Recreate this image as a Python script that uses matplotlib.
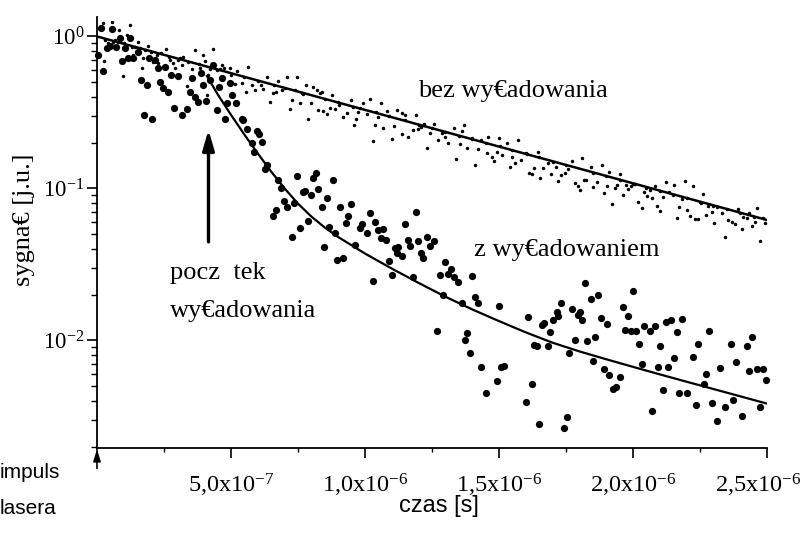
import matplotlib
matplotlib.use('Agg')
import matplotlib.pyplot as plt
import matplotlib.transforms as mtransforms
from matplotlib import font_manager
from matplotlib.ticker import FixedLocator, FixedFormatter, NullFormatter
import numpy as np

# ---------------- data (time in units of 1e-7 s) ----------------
bez_t = [0.21, 0.25, 0.30, 0.42, 0.55, 0.60, 0.67, 0.79, 0.82, 0.96,
         1.00, 1.11, 1.23, 1.30, 1.35, 1.42, 1.54, 1.60, 1.67, 1.73,
         1.79, 1.91, 2.00, 2.10, 2.23, 2.29, 2.40, 2.56, 2.70, 2.72,
         2.85, 2.91, 3.01, 3.10, 3.16, 3.22, 3.35, 3.40, 3.53, 3.66,
         3.80, 3.84, 3.97, 4.03, 4.09, 4.13, 4.20, 4.34, 4.47, 4.60,
         4.65, 4.75, 4.96, 5.00,
         5.03, 5.15, 5.21, 5.40, 5.50, 5.56, 5.65, 5.77, 5.90, 6.00,
         6.11, 6.21, 6.35, 6.47, 6.56, 6.60, 6.68, 6.77, 6.89, 7.00,
         7.08, 7.19, 7.26, 7.39, 7.46, 7.57, 7.64, 7.70, 7.78, 7.87,
         7.97, 8.07, 8.20, 8.26, 8.32, 8.38, 8.44, 8.50, 8.57, 8.69,
         8.77, 8.88, 9.00, 9.04, 9.19, 9.32, 9.48, 9.54, 9.59, 9.66,
         9.75, 9.80, 9.91, 10.06, 10.19, 10.29, 10.37, 10.40, 10.50, 10.59,
         10.68, 10.81, 10.90, 11.00, 11.09, 11.18,
         11.37, 11.39, 11.49, 11.50, 11.62, 11.80, 11.89, 11.99, 12.00, 12.09,
         12.21, 12.30, 12.43, 12.50, 12.59, 12.71, 12.86, 12.99, 13.00, 13.11,
         13.33, 13.38, 13.50, 13.54, 13.61, 13.71, 13.79, 13.98, 14.00, 14.10,
         14.21, 14.33, 14.50, 14.54, 14.60, 14.73, 14.83, 14.91, 15.00, 15.05,
         15.10, 15.29, 15.41, 15.47, 15.50, 15.60, 15.72, 15.82, 16.00, 16.05,
         16.12, 16.22, 16.32, 16.44, 16.50, 16.53, 16.65, 16.82, 16.94, 17.00,
         17.12, 17.21, 17.31, 17.46, 17.50, 17.56, 17.71, 17.84, 17.94, 18.02,
         18.11, 18.18,
         18.25, 18.42, 18.50, 18.52, 18.67, 18.83, 18.92, 19.00, 19.02, 19.12,
         19.21, 19.33, 19.41, 19.50, 19.51, 19.62, 19.74, 19.82, 19.91, 20.00,
         20.07, 20.20, 20.32, 20.41, 20.50, 20.51, 20.63, 20.70, 20.82, 20.91,
         21.00, 21.01, 21.11, 21.23, 21.35, 21.50, 21.53, 21.63, 21.73, 21.82,
         21.94, 22.00, 22.03, 22.13, 22.23, 22.31, 22.44, 22.50, 22.53, 22.62,
         22.72, 22.81, 22.94, 23.00, 23.02, 23.12, 23.31, 23.43, 23.50, 23.56,
         23.68, 23.81, 23.93, 24.00, 24.06, 24.12, 24.24, 24.34, 24.43, 24.50,
         24.55, 24.64, 24.74, 24.84, 24.93]
bez_y = [1.23, 0.690, 0.95, 0.902, 1.25, 0.92, 0.948, 0.924, 1.10, 0.550,
         0.91, 1.02, 1.19, 0.85, 0.756, 0.857, 0.916, 0.84, 0.624, 0.719,
         0.815, 0.870, 0.79, 0.683, 0.756, 0.667, 0.78, 0.830, 0.73, 0.700,
         0.667, 0.618, 0.700, 0.72, 0.649, 0.736, 0.475, 0.68, 0.611, 0.811,
         0.66, 0.624, 0.756, 0.690, 0.412, 0.558, 0.61, 0.824, 0.602, 0.61,
         0.649, 0.618, 0.618, 0.56,
         0.492, 0.49, 0.596, 0.492, 0.54, 0.433, 0.633, 0.480, 0.445, 0.51,
         0.480, 0.450, 0.544, 0.371, 0.427, 0.48, 0.433, 0.512, 0.445, 0.46,
         0.544, 0.332, 0.382, 0.445, 0.542, 0.363, 0.427, 0.42, 0.482, 0.288,
         0.363, 0.468, 0.445, 0.327, 0.423, 0.433, 0.325, 0.39, 0.309, 0.337,
         0.412, 0.332, 0.37, 0.354, 0.297, 0.315, 0.382, 0.345, 0.262, 0.287,
         0.320, 0.34, 0.367, 0.309, 0.386, 0.206, 0.262, 0.32, 0.294, 0.367,
         0.249, 0.325, 0.30, 0.211, 0.259, 0.330,
         0.312, 0.228, 0.305, 0.28, 0.219, 0.243, 0.305, 0.245, 0.26, 0.255,
         0.266, 0.184, 0.233, 0.25, 0.266, 0.208, 0.231, 0.219, 0.235, 0.200,
         0.249, 0.156, 0.22, 0.196, 0.240, 0.262, 0.184, 0.214, 0.21, 0.143,
         0.181, 0.208, 0.20, 0.172, 0.219, 0.162, 0.152, 0.175, 0.214, 0.19,
         0.166, 0.200, 0.138, 0.162, 0.18, 0.1465, 0.208, 0.154, 0.172, 0.168,
         0.127, 0.1245, 0.136, 0.175, 0.16, 0.117, 0.136, 0.1465, 0.1245, 0.15,
         0.139, 0.1125, 0.123, 0.127, 0.143, 0.134, 0.152, 0.108, 0.104, 0.0977,
         0.158, 0.114,
         0.114, 0.139, 0.127, 0.102, 0.111, 0.143, 0.0938, 0.12, 0.1038, 0.129,
         0.0791, 0.1003, 0.105, 0.114, 0.1245, 0.0906, 0.105, 0.0988, 0.1038, 0.107,
         0.107, 0.0819, 0.0741, 0.0953, 0.101, 0.0893, 0.0977, 0.0862, 0.1038, 0.0767,
         0.096, 0.0711, 0.0883, 0.111, 0.0953, 0.091, 0.105, 0.0643, 0.0752, 0.0849,
         0.1125, 0.086, 0.0722, 0.0659, 0.1038, 0.0627, 0.0627, 0.082, 0.080, 0.0916,
         0.0669, 0.0767, 0.0704, 0.077, 0.0596, 0.0759, 0.0687, 0.0478, 0.073, 0.0621,
         0.0605, 0.0584, 0.0729, 0.069, 0.0539, 0.0647, 0.0637, 0.0693, 0.0566, 0.065,
         0.0605, 0.0748, 0.0454, 0.0637, 0.0596]

z_t = [0.03, 0.15, 0.23, 0.36, 0.49, 0.55, 0.70, 0.86, 0.94, 1.04,
       1.17, 1.23, 1.35, 1.52, 1.64, 1.76, 1.85, 1.95, 2.06, 2.16,
       2.26, 2.36, 2.47, 2.54, 2.66, 2.76, 2.86, 3.01, 3.16, 3.36,
       3.47, 3.56, 3.66, 3.78, 3.88, 3.97, 4.06, 4.22, 4.34, 4.47,
       4.55, 4.65, 4.78, 4.84, 4.96, 5.05,
       5.19, 5.40, 5.46, 5.61, 5.77, 5.86, 5.96, 6.06, 6.17, 6.27,
       6.35, 6.56, 6.68, 6.77, 6.87, 6.98, 7.08, 7.28, 7.36, 7.47,
       7.57, 7.68, 7.76, 7.88, 7.97, 8.07, 8.17, 8.26, 8.38, 8.48,
       8.57, 8.67, 8.80, 8.88, 8.97, 9.07, 9.19, 9.29, 9.38, 9.48,
       9.63, 9.81, 9.88, 10.09, 10.19, 10.29, 10.38, 10.50, 10.59, 10.68,
       10.78, 10.90, 11.00, 11.12, 11.18,
       11.24, 11.37, 11.49, 11.62, 11.68, 11.80, 11.89, 11.99, 12.09, 12.18,
       12.30, 12.43, 12.59, 12.69, 12.80, 12.92, 12.99, 13.11, 13.21, 13.33,
       13.48, 13.61, 13.73, 13.79, 13.92, 14.00, 14.10, 14.21, 14.33, 14.50,
       14.91, 15.00, 15.07, 15.20, 16.01, 16.09, 16.22, 16.32, 16.41, 16.50,
       16.59, 16.69, 16.82, 16.90, 17.03, 17.15, 17.21, 17.31, 17.43, 17.53,
       17.61, 17.71, 17.84, 17.94, 18.02, 18.11,
       18.21, 18.29, 18.42, 18.52, 18.58, 18.71, 18.79, 18.92, 19.02, 19.12,
       19.24, 19.37, 19.51, 19.62, 19.70, 19.82, 19.91, 20.01, 20.11, 20.24,
       20.32, 20.42, 20.63, 20.72, 20.82, 20.92, 21.01, 21.11, 21.23, 21.32,
       21.41, 21.53, 21.63, 21.73, 21.82, 22.03, 22.23, 22.34, 22.44, 22.65,
       22.72, 22.85, 22.94, 23.12, 23.25, 23.43, 23.65, 23.74, 23.84, 24.06,
       24.24, 24.34, 24.43, 24.64, 24.74, 24.84, 24.95]
z_y = [0.76, 1.14, 0.593, 0.836, 0.870, 1.12, 0.857, 0.98, 0.690, 0.836,
       0.719, 0.973, 0.725, 0.794, 0.517, 0.305, 0.480, 0.725, 0.287, 0.700,
       0.618, 0.504, 0.456, 0.633, 0.433, 0.558, 0.340, 0.552, 0.305, 0.332,
       0.430, 0.536, 0.402, 0.369, 0.573, 0.480, 0.376, 0.517, 0.649, 0.328,
       0.468, 0.536, 0.287, 0.363, 0.492, 0.412,
       0.363, 0.285, 0.282, 0.245, 0.198, 0.175, 0.240, 0.229, 0.201, 0.134,
       0.143, 0.0659, 0.0722, 0.114, 0.101, 0.0828, 0.0759, 0.0478, 0.080, 0.121,
       0.0552, 0.0953, 0.0968, 0.0611, 0.0906, 0.117, 0.126, 0.0993, 0.0759, 0.0414,
       0.0862, 0.0561, 0.114, 0.0512, 0.0339, 0.0759, 0.0347, 0.0596, 0.0659, 0.0791,
       0.0425, 0.0547, 0.0584, 0.0507, 0.0687, 0.0246, 0.0605, 0.0533, 0.0470, 0.0539,
       0.0458, 0.0335, 0.0270, 0.0404, 0.0375,
       0.0414, 0.0360, 0.0581, 0.0458, 0.0421, 0.0263, 0.0704, 0.0452, 0.0375, 0.0347,
       0.0482, 0.0418, 0.0454, 0.01155, 0.0270, 0.0199, 0.0330, 0.0274, 0.0294, 0.0261,
       0.0242, 0.0176, 0.0101, 0.01125, 0.00824, 0.0267, 0.0194, 0.0177, 0.00673, 0.00450,
       0.00544, 0.0169, 0.00673, 0.0068, 0.00392, 0.0142, 0.00515, 0.00934, 0.00920, 0.00281,
       0.01265, 0.0131, 0.00924, 0.01143, 0.0136, 0.01546, 0.0145, 0.0176, 0.00267, 0.00315,
       0.00832, 0.0160, 0.0101, 0.0147, 0.0155, 0.0136,
       0.0238, 0.00997, 0.0188, 0.00736, 0.0105, 0.0199, 0.0140, 0.00647, 0.0128, 0.00593,
       0.00477, 0.00497, 0.00573, 0.0165, 0.0117, 0.0145, 0.0116, 0.0212, 0.0116, 0.00944,
       0.00697, 0.01246, 0.01155, 0.00345, 0.01246, 0.00673, 0.0092, 0.00472, 0.0133, 0.00673,
       0.0136, 0.00771, 0.01143, 0.0045, 0.0138, 0.0045, 0.00775, 0.00375, 0.00944, 0.00515,
       0.00602, 0.01155, 0.00386, 0.00295, 0.00662, 0.00364, 0.00944, 0.00406, 0.00726, 0.00319,
       0.00924, 0.00633, 0.0105, 0.00653, 0.00367, 0.00653, 0.0055]

# fitted curves
bez_fit_t = [0.0, 25.0]
bez_fit_y = [1.0, 0.062]
z_fit_t = [4.1, 4.5, 5.0, 5.5, 6.0, 6.5, 7.0, 7.5, 8.0, 8.5,
           9, 10, 11, 12, 13, 14, 15, 16, 17, 18, 19, 20, 21, 22, 23, 24, 25]
z_fit_y = [0.550, 0.417, 0.305, 0.226, 0.170, 0.129, 0.100, 0.0794, 0.0653, 0.0553,
           0.0479, 0.0373, 0.0297, 0.0239, 0.0194, 0.0160, 0.0134, 0.0113, 0.00966, 0.00847,
           0.00752, 0.00670, 0.00598, 0.00535, 0.00479, 0.00429, 0.00384]

x_ticks = [0.0, 5e-7, 1e-6, 1.5e-6, 2e-6, 2.5e-6]
x_tick_labels = ['', '5,0x10$^{-7}$', '1,0x10$^{-6}$', '1,5x10$^{-6}$',
                 '2,0x10$^{-6}$', '2,5x10$^{-6}$']
x_minor = [2.5e-7, 7.5e-7, 1.25e-6, 1.75e-6, 2.25e-6]
y_ticks = [1e-2, 1e-1, 1e0]
y_tick_labels = ['10$^{-2}$', '10$^{-1}$', '10$^{0}$']

T_UNIT = 1e-7

# ---------------- fonts ----------------
SERIF = 'Liberation Serif'


def pick_font(names, default):
    for name in names:
        try:
            font_manager.findfont(name, fallback_to_default=False)
            return name
        except Exception:
            pass
    return default


SANS = pick_font(['Liberation Sans Narrow', 'Liberation Sans'], 'DejaVu Sans')

plt.rcParams['font.family'] = [SERIF, 'DejaVu Serif']
plt.rcParams['mathtext.fontset'] = 'custom'
plt.rcParams['mathtext.rm'] = SERIF
plt.rcParams['mathtext.it'] = SERIF + ':italic'
plt.rcParams['mathtext.bf'] = SERIF + ':bold'

W, H = 805, 538
fig = plt.figure(figsize=(W / 100, H / 100), dpi=100)
ax = fig.add_axes([97 / W, 1 - 448 / H, 670 / W, 431 / H])

bt = np.array(bez_t) * T_UNIT
zt = np.array(z_t) * T_UNIT

ax.plot(bt, bez_y, 'o', color='black', markersize=2.5, markeredgewidth=0,
        clip_on=False, zorder=3)
ax.plot(zt, z_y, 'o', color='black', markersize=5.2, markeredgewidth=0,
        clip_on=False, zorder=3)
ax.plot(np.array(bez_fit_t) * T_UNIT, bez_fit_y, '-', color='black', lw=1.8, zorder=4)
ax.plot(np.array(z_fit_t) * T_UNIT, z_fit_y, '-', color='black', lw=1.6, zorder=4)

ax.set_yscale('log')
ax.set_xlim(0, 2.5e-6)
ax.set_ylim(0.00196, 1.343)

for s in ['top', 'right']:
    ax.spines[s].set_visible(False)
for s in ['left', 'bottom']:
    ax.spines[s].set_linewidth(1.3)

ax.xaxis.set_major_locator(FixedLocator(x_ticks))
ax.xaxis.set_major_formatter(FixedFormatter(x_tick_labels))
ax.xaxis.set_minor_locator(FixedLocator(x_minor))
ax.xaxis.set_minor_formatter(NullFormatter())
ax.yaxis.set_major_locator(FixedLocator(y_ticks))
ax.yaxis.set_major_formatter(FixedFormatter(y_tick_labels))
ax.yaxis.set_minor_formatter(NullFormatter())

ax.tick_params(axis='both', which='major', direction='out', width=1.2,
               colors='black')
ax.tick_params(axis='y', which='major', length=7, pad=2, labelsize=16.5)
ax.tick_params(axis='y', which='minor', direction='out', length=4, width=1.0)
ax.tick_params(axis='x', which='major', length=7, pad=10, labelsize=17.5)
ax.tick_params(axis='x', which='minor', direction='out', length=3, width=1.0)

# axis labels
fig.text(24 / W, 1 - 220 / H, 'sygna€ [j.u.]', rotation=90, ha='center',
         va='center', fontsize=19, family=[SERIF, 'DejaVu Serif'])
fig.text(439 / W, 1 - 506 / H, 'czas [s]', ha='center', va='center',
         fontsize=17, family=[SANS, 'DejaVu Sans'])
fig.text(0 / W, 1 - 472 / H, 'impuls', ha='left', va='center',
         fontsize=15, family=[SANS, 'DejaVu Sans'])
fig.text(0 / W, 1 - 508 / H, 'lasera', ha='left', va='center',
         fontsize=15, family=[SANS, 'DejaVu Sans'])

# annotations
fig.text(418 / W, 1 - 97.3 / H, 'bez wy€adowania', ha='left', va='baseline',
         fontsize=19)
fig.text(474 / W, 1 - 256 / H, 'z wy€adowaniem', ha='left', va='baseline',
         fontsize=19)
fig.text(170 / W, 1 - 279.3 / H, 'pocz  tek', ha='left', va='baseline',
         fontsize=19)
fig.text(170 / W, 1 - 316.7 / H, 'wy€adowania', ha='left', va='baseline',
         fontsize=19)

# arrow marking start of discharge
ax.annotate('', xy=(4.16e-7, 0.243), xytext=(4.16e-7, 0.0445),
            arrowprops=dict(arrowstyle='-|>,head_length=1.2,head_width=0.35',
                            lw=2.4, color='black', mutation_scale=10,
                            shrinkA=0, shrinkB=0))
# arrow marking laser pulse
ax.annotate('', xy=(0, -0.003), xycoords=ax.get_xaxis_transform(),
            xytext=(0, -0.047), textcoords=ax.get_xaxis_transform(),
            arrowprops=dict(arrowstyle='-|>,head_length=0.7,head_width=0.22',
                            lw=1.2, color='black', mutation_scale=10,
                            shrinkA=0, shrinkB=0),
            annotation_clip=False)

# keep the last x tick label inside the canvas (as in the reference)
fig.canvas.draw()
last_tick = ax.xaxis.get_major_ticks()[-1]
last_tick.label1.set_transform(
    last_tick.label1.get_transform()
    + mtransforms.ScaledTranslation(-9 / 100, 0, fig.dpi_scale_trans))

fig.savefig('out.png', dpi=100)
